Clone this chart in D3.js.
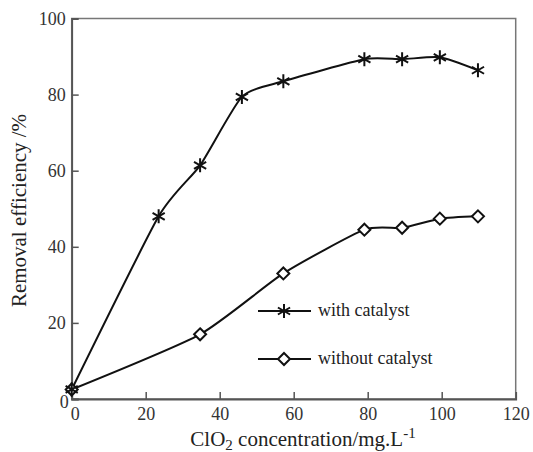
<!DOCTYPE html>
<html><head><meta charset="utf-8">
<script src="https://cdn.jsdelivr.net/npm/d3@7"></script>
<style>body{margin:0;background:#fff}svg{display:block}</style>
</head><body>
<script>
const xTicks = [0, 20, 40, 60, 80, 100, 120];
const yTicks = [0, 20, 40, 60, 80, 100];
const withX = [0, 23.5, 34.7, 46, 57.2, 79.1, 89.3, 99.5, 109.8];
const withY = [2.5, 48, 61.4, 79.4, 83.5, 89.3, 89.3, 89.8, 86.4];
const withoutX = [0, 34.7, 57.2, 79.1, 89.3, 99.5, 109.8];
const withoutY = [2.5, 17, 33, 44.5, 45, 47.4, 48];
const seriesNames = ["with catalyst", "without catalyst"];

const FONT = "'Liberation Serif', 'Times New Roman', serif";
const W = 533, H = 452;
const svg = d3.select("body").append("svg").attr("width", W).attr("height", H);
const x = d3.scaleLinear().domain([0, 120]).range([71.7, 515.7]);
const y = d3.scaleLinear().domain([0, 100]).range([399, 18.5]);

svg.append("rect").attr("x", x(0)).attr("y", y(100)).attr("width", x(120) - x(0)).attr("height", y(0) - y(100))
  .attr("fill", "none").attr("stroke", "#777").attr("stroke-width", 1.5);

const xAxis = svg.append("g").attr("transform", `translate(0,${y(0)})`)
  .call(d3.axisBottom(x).tickValues(xTicks).tickSize(-7).tickPadding(8).tickFormat(d3.format("d")));
const yAxis = svg.append("g").attr("transform", `translate(${x(0)},0)`)
  .call(d3.axisLeft(y).tickValues(yTicks).tickSize(-7).tickPadding(6).tickFormat(d3.format("d")));
[xAxis, yAxis].forEach(g => {
  g.select(".domain").attr("stroke", "#555").attr("stroke-width", 1.8);
  g.selectAll(".tick line").attr("stroke", "#555").attr("stroke-width", 1.5);
  g.selectAll("text").style("font-family", FONT).style("font-size", "18px").attr("fill", "#333");
});
xAxis.selectAll(".tick").filter(d => d === 120).select("line").remove();
yAxis.selectAll(".tick").filter(d => d === 100).select("line").remove();
xAxis.selectAll(".tick").filter(d => d === 0).select("text").attr("dx", 3);
yAxis.selectAll(".tick").filter(d => d === 0).select("text").attr("dx", 3).attr("dy", "0.45em");

const line = d3.line().x(d => x(d[0])).y(d => y(d[1])).curve(d3.curveCardinal.tension(0.4));
const withData = withX.map((v, i) => [v, withY[i]]);
const withoutData = withoutX.map((v, i) => [v, withoutY[i]]);

function star(g, cx, cy, r) {
  const p = `M${cx},${cy - r}L${cx},${cy + r}M${cx - r * 0.87},${cy - r * 0.5}L${cx + r * 0.87},${cy + r * 0.5}M${cx - r * 0.87},${cy + r * 0.5}L${cx + r * 0.87},${cy - r * 0.5}`;
  g.append("path").attr("d", p).attr("stroke", "#111").attr("stroke-width", 2).attr("fill", "none");
}
function diamond(g, cx, cy, r) {
  g.append("path").attr("d", `M${cx},${cy - r}L${cx + r},${cy}L${cx},${cy + r}L${cx - r},${cy}Z`)
    .attr("fill", "#fff").attr("stroke", "#111").attr("stroke-width", 2);
}

svg.append("path").datum(withoutData).attr("d", line).attr("fill", "none").attr("stroke", "#111").attr("stroke-width", 2);
svg.append("path").datum(withData).attr("d", line).attr("fill", "none").attr("stroke", "#111").attr("stroke-width", 2);
const mk = svg.append("g");
withoutData.forEach(d => diamond(mk, x(d[0]), y(d[1]), 6));
withData.forEach(d => star(mk, x(d[0]), y(d[1]), 7));

const lg = svg.append("g");
[311, 359].forEach((ly, i) => {
  lg.append("line").attr("x1", 258).attr("x2", 311).attr("y1", ly).attr("y2", ly).attr("stroke", "#111").attr("stroke-width", 2);
  if (i === 0) star(lg, 284, ly, 7); else diamond(lg, 284, ly, 6);
  lg.append("text").attr("x", 318).attr("y", ly + 5).style("font-family", FONT).style("font-size", "18px").attr("fill", "#222").text(seriesNames[i]);
});

const xt = svg.append("text").attr("x", 303).attr("y", 446).attr("text-anchor", "middle")
  .style("font-family", FONT).style("font-size", "21px").attr("fill", "#222");
xt.append("tspan").text("ClO");
xt.append("tspan").style("font-size", "15px").attr("dy", 4).text("2");
xt.append("tspan").attr("dy", -4).text(" concentration/mg.L");
xt.append("tspan").style("font-size", "15px").attr("dy", -8).text("-1");

svg.append("text").attr("transform", "translate(26,210.5) rotate(-90)").attr("text-anchor", "middle")
  .style("font-family", FONT).style("font-size", "21px").attr("fill", "#222").text("Removal efficiency /%");
</script>
</body></html>
